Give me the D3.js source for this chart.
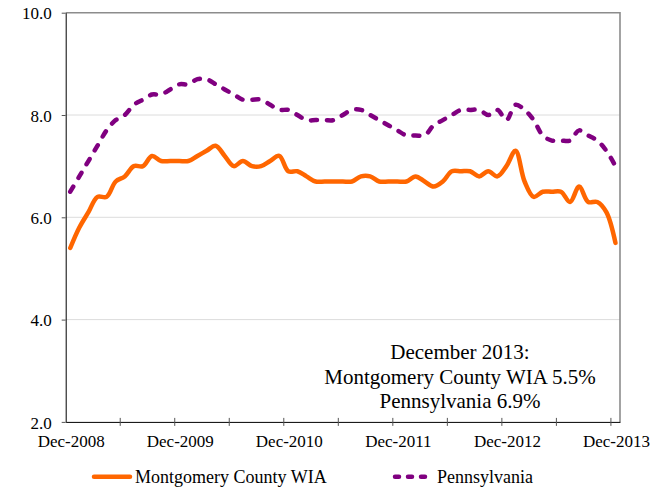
<!DOCTYPE html>
<html><head><meta charset="utf-8">
<script src="https://cdn.jsdelivr.net/npm/d3@7"></script>
<style>
body{margin:0;background:#fff}
svg{display:block}
svg text{font-family:"Liberation Serif","Times New Roman",serif !important;fill:#000}
</style>
</head><body><svg id="c" width="661" height="488"></svg>
<script>
const seriesNames = ["Montgomery County WIA", "Pennsylvania"];
const montgomery = [5.4,5.8,6.1,6.4,6.4,6.7,6.8,7.0,7.0,7.2,
  7.1,7.1,7.1,7.1,7.2,7.3,7.4,7.2,7.0,7.1,
  7.0,7.0,7.1,7.2,6.9,6.9,6.8,6.7,6.7,6.7,
  6.7,6.7,6.8,6.8,6.7,6.7,6.7,6.7,6.8,6.7,
  6.6,6.7,6.9,6.9,6.9,6.8,6.9,6.8,7.0,7.3,
  6.7,6.4,6.5,6.5,6.5,6.3,6.6,6.3,6.3,6.1,5.5];
const pennsylvania = [6.5,6.8,7.1,7.4,7.7,7.9,8.0,8.2,8.3,8.4,
  8.4,8.5,8.6,8.6,8.7,8.7,8.6,8.5,8.4,8.3,
  8.3,8.3,8.2,8.1,8.1,8.0,7.9,7.9,7.9,7.9,
  8.0,8.1,8.1,8.0,7.9,7.8,7.7,7.6,7.6,7.6,
  7.8,7.9,8.0,8.1,8.1,8.1,8.0,8.1,7.9,8.2,
  8.1,7.9,7.6,7.5,7.5,7.5,7.7,7.6,7.5,7.3,7.0];
const yTicks = [2, 4, 6, 8, 10];
const xLabelEvery = 12;
const xTickEvery = 6;
const annotation = ["December 2013:", "Montgomery County WIA 5.5%", "Pennsylvania 6.9%"];
// categories: months Dec-2008 .. Dec-2013
const fmt = d3.timeFormat("%b-%Y");
const categories = d3.timeMonth.range(new Date(2008, 11, 1), new Date(2014, 0, 1)).map(fmt);

const colors = ["#FF6600", "#800080"];
const FONT = '"Liberation Serif","Times New Roman",serif';
const svg = d3.select("#c");
const L = 65.7, R = 620, T = 12.7, B = 421.9;

const x = d3.scaleBand().domain(categories).range([L, R]).padding(0);
const y = d3.scaleLinear().domain([2, 10]).range([B, T]);
const cx = d => x(d) + x.bandwidth() / 2;

// gridlines
svg.append("g").selectAll("line").data(yTicks.filter(v => v > 2 && v < 10)).join("line")
  .attr("x1", L).attr("x2", R).attr("y1", d => y(d)).attr("y2", d => y(d))
  .attr("stroke", "#dcdcdc").attr("stroke-width", 1);

// frame top & right
svg.append("path").attr("d", `M${L},${T}H${R}V${B}`).attr("fill", "none")
  .attr("stroke", "#8c8c8c").attr("stroke-width", 1.6);

// y axis
const ya = svg.append("g").attr("transform", `translate(${L},0)`)
  .call(d3.axisLeft(y).tickValues(yTicks).tickFormat(d3.format(".1f")).tickSizeInner(4).tickSizeOuter(0).tickPadding(10));
ya.attr("font-family", FONT).attr("font-size", 17);
ya.select(".domain").attr("stroke", "#000");
ya.selectAll(".tick line").attr("stroke", "#555");
ya.selectAll("text").style("font-family", FONT).style("font-size", "17px").attr("dy", "0.36em");

// x axis labels
const xa = svg.append("g").attr("transform", `translate(0,${B})`)
  .call(d3.axisBottom(x).tickValues(categories.filter((d, i) => i % xLabelEvery === 0)).tickSize(0).tickPadding(13));
xa.attr("font-family", FONT).attr("font-size", 17);
xa.select(".domain").attr("stroke", "#000");
xa.selectAll("text").style("font-family", FONT).style("font-size", "17px").attr("dx", "1");
// x tick marks at category boundaries
svg.append("g").selectAll("line").data(categories.filter((d, i) => i % xTickEvery === 0 && i > 0)).join("line")
  .attr("x1", d => x(d)).attr("x2", d => x(d)).attr("y1", B - 4).attr("y2", B + 4)
  .attr("stroke", "#555").attr("stroke-width", 1);

// lines
const line = d3.line().x((d, i) => cx(categories[i])).y(d => y(d)).curve(d3.curveCatmullRom.alpha(0.5));
svg.append("path").datum(pennsylvania).attr("d", line).attr("fill", "none")
  .attr("stroke", colors[1]).attr("stroke-width", 4.5).attr("stroke-dasharray", "6,10").attr("stroke-linecap", "round");
svg.append("path").datum(montgomery).attr("d", line).attr("fill", "none")
  .attr("stroke", colors[0]).attr("stroke-width", 4.5).attr("stroke-linejoin", "round").attr("stroke-linecap", "round");

// annotation
svg.append("g").selectAll("text").data(annotation).join("text")
  .attr("x", 460).attr("y", (d, i) => 359 + i * 24.5).attr("text-anchor", "middle")
  .style("font-size", "21px").text(d => d);

// legend
const leg = [{x1: 92, x2: 132, tx: 135}, {x1: 393, x2: 433, tx: 437}];
const lg = svg.append("g");
leg.forEach((p, i) => {
  const l = lg.append("line").attr("x1", p.x1 + 2).attr("x2", p.x2 - 2).attr("y1", 476.7).attr("y2", 476.7)
    .attr("stroke", colors[i]).attr("stroke-width", 4.5).attr("stroke-linecap", "round");
  if (i === 1) l.attr("stroke-dasharray", "4,9");
  lg.append("text").attr("x", p.tx).attr("y", 482.5).style("font-size", "18px").text(seriesNames[i]);
});
</script>
</body></html>
